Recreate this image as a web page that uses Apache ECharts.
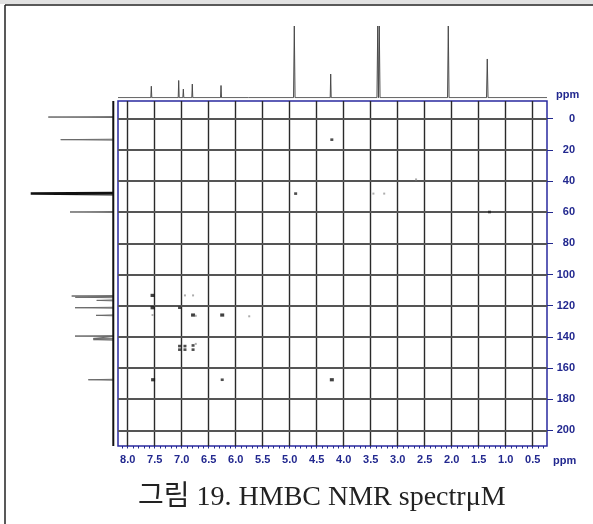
<!DOCTYPE html>
<html><head><meta charset="utf-8">
<script src="https://cdn.jsdelivr.net/npm/echarts@6/dist/echarts.min.js"></script>
<style>html,body{margin:0;padding:0;background:#fff}#c{width:593px;height:524px}</style>
</head><body><div id="c"></div>
<script>
// ---- axis ticks ----
const xTicks = [8.0,7.5,7.0,6.5,6.0,5.5,5.0,4.5,4.0,3.5,3.0,2.5,2.0,1.5,1.0,0.5];
const yTicks = [0,20,40,60,80,100,120,140,160,180,200];
// ---- 1H projection (top): ppm, relative intensity ----
const topPeakPpm = [7.563,7.056,6.970,6.804,6.272,5.754,4.915,4.241,3.370,3.341,2.063,1.341];
const topPeakInt = [16,24,12,19,17,1.5,100,33,100,100,100,54];
// ---- 13C projection (left): ppm, relative intensity ----
const sidePeakPpm = [-1.0,13.5,59.9,113.8,114.6,116.6,121.3,126.2,139.5,141.0,141.8,167.5];
const sidePeakInt = [65,52.6,43.3,41.6,38,16.6,38.3,17.3,38.3,20,20,25];
const solventPpm = [48.1];
const solventInt = [82.6];
// ---- HMBC cross peaks: 1H ppm, 13C ppm, strength (1 strong, 2 medium, 3 weak) ----
const crossH = [4.22,4.89,3.45,3.25,2.66,1.30,7.54,6.94,6.79,7.54,7.04,7.54,6.79,6.74,6.25,5.75,7.04,6.94,6.79,6.74,7.04,6.94,6.79,7.53,6.25,4.22];
const crossC = [13.5,48.1,48.1,48.1,39.0,59.9,113.4,113.4,113.4,121.3,121.3,126.0,126.0,126.5,126.0,126.8,145.9,145.9,145.5,144.5,148.2,148.2,148.2,167.5,167.5,167.5];
const crossS = [2,2,3,3,3,2,1,3,3,1,2,3,1,3,1,3,2,2,2,3,2,2,2,1,2,1];

const NAVY = '#22288f';
const X_MIN = 0.235, X_MAX = 8.18, Y_MIN = -11.3, Y_MAX = 210;

// build stick spectra from the peak lists
function topLine(){
  const d=[[X_MAX,0]];
  const idx = topPeakPpm.map((p,i)=>i).sort((a,b)=>topPeakPpm[b]-topPeakPpm[a]);
  idx.forEach(i=>{const p=topPeakPpm[i],h=topPeakInt[i],w=h>50?0.014:0.009;
    d.push([p+w,0],[p,h],[p-w,0]);});
  d.push([X_MIN,0]);
  return d;
}
function sideLine(ppm,ints,w){
  const d=[];
  ppm.forEach((c,i)=>{d.push([0,c-w],[ints[i],c],[0,c+w]);});
  return d;
}
const minorTicks=[];
for(let k=3;k<=81;k++) minorTicks.push(k/10);

const styleFor = {1:{size:[4,3.2],color:'#111'},2:{size:[3,2.6],color:'#222'},3:{size:[2,2],color:'#999'}};
const crossData = crossH.map((h,i)=>({value:[h,crossC[i]],symbolSize:styleFor[crossS[i]].size,itemStyle:{color:styleFor[crossS[i]].color}}));

const gridLines = xTicks.map(v=>({xAxis:v,lineStyle:{color:'#2a2a2a',width:1.4,type:'solid'}}))
  .concat(yTicks.map(v=>({yAxis:v,lineStyle:{color:'#555',width:1.8,type:'solid'}})));

const labelFont = {color:NAVY,fontWeight:'bold',fontSize:11,fontFamily:'Liberation Sans, Arial, sans-serif'};

const chart = echarts.init(document.getElementById('c'),null,{renderer:'canvas'});
chart.setOption({
  animation:false,
  backgroundColor:'#fff',
  grid:[
    {left:118,top:101,width:429,height:345,show:true,borderColor:'#2a2aa0',borderWidth:1.5,backgroundColor:'transparent'},
    {left:118,top:26,width:429,height:71.7},
    {left:23.3,top:101,width:90,height:345}
  ],
  xAxis:[
    {gridIndex:0,type:'value',inverse:true,min:X_MIN,max:X_MAX,position:'bottom',
     axisLine:{show:false},splitLine:{show:false},
     axisTick:{show:true,customValues:xTicks,length:4,lineStyle:{color:NAVY,width:1}},
     axisLabel:Object.assign({customValues:xTicks,margin:8,formatter:v=>v.toFixed(1)},labelFont)},
    {gridIndex:0,type:'value',inverse:true,min:X_MIN,max:X_MAX,position:'bottom',
     axisLine:{show:false},splitLine:{show:false},axisLabel:{show:false},
     axisTick:{show:true,customValues:minorTicks,length:2.5,lineStyle:{color:NAVY,width:1}}},
    {gridIndex:1,type:'value',inverse:true,min:X_MIN,max:X_MAX,show:false},
    {gridIndex:2,type:'value',inverse:true,min:0,max:90,show:false}
  ],
  yAxis:[
    {gridIndex:0,type:'value',inverse:true,min:Y_MIN,max:Y_MAX,position:'right',
     axisLine:{show:false},splitLine:{show:false},
     axisTick:{show:true,customValues:yTicks,length:6,lineStyle:{color:NAVY,width:1}},
     axisLabel:Object.assign({customValues:yTicks,margin:28,align:'right'},labelFont)},
    {gridIndex:1,type:'value',min:0,max:100,show:false},
    {gridIndex:2,type:'value',inverse:true,min:Y_MIN,max:Y_MAX,show:false}
  ],
  series:[
    {type:'line',xAxisIndex:0,yAxisIndex:0,data:[],silent:true,z:1,
     markLine:{silent:true,symbol:['none','none'],label:{show:false},z:1,
       lineStyle:{type:'solid'},emphasis:{disabled:true},data:gridLines}},
    {type:'scatter',xAxisIndex:0,yAxisIndex:0,symbol:'rect',data:crossData,z:4,silent:true},
    {type:'line',xAxisIndex:2,yAxisIndex:1,data:topLine(),showSymbol:false,symbol:'none',
     lineStyle:{color:'#4a4a4a',width:1},clip:true,silent:true},
    {type:'line',xAxisIndex:3,yAxisIndex:2,data:sideLine(sidePeakPpm,sidePeakInt,0.3),symbol:'none',
     lineStyle:{color:'#6a6a6a',width:1},silent:true},
    {type:'line',xAxisIndex:3,yAxisIndex:2,data:sideLine(solventPpm,solventInt,0.35),symbol:'none',
     lineStyle:{color:'#111',width:2.5},silent:true},
    {type:'line',xAxisIndex:3,yAxisIndex:2,data:[[0,Y_MIN],[0,Y_MAX]],symbol:'none',
     lineStyle:{color:'#111',width:2},silent:true}
  ],
  graphic:[
    {type:'rect',shape:{x:0,y:0,width:593,height:4},style:{fill:'#e2e2e2'},silent:true},
    {type:'line',shape:{x1:5,y1:5,x2:593,y2:5},style:{stroke:'#222',lineWidth:1.5},silent:true},
    {type:'line',shape:{x1:5,y1:5,x2:5,y2:524},style:{stroke:'#222',lineWidth:1.5},silent:true},
    {type:'text',left:556,top:89,style:{text:'ppm',fill:NAVY,font:'bold 11px Liberation Sans, Arial, sans-serif'}},
    {type:'text',left:553,top:455,style:{text:'ppm',fill:NAVY,font:'bold 11px Liberation Sans, Arial, sans-serif'}},
    {type:'text',left:138,top:484,style:{text:'그림 19. HMBC NMR spectrμM',fill:'#222',
      font:'28px "Liberation Serif", "Noto Sans CJK KR", serif'}}
  ]
});
</script></body></html>
